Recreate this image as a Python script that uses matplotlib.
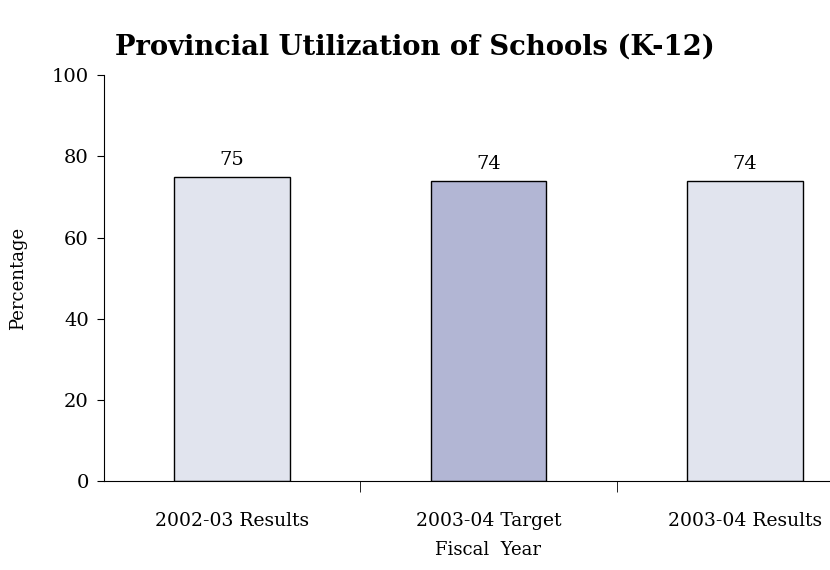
import matplotlib.pyplot as plt
import numpy as np

# Utilization data
categories = ['2002-03 Results', '2003-04 Target', '2003-04 Results']
values = [75, 74, 74]
colors = ['#E1E4EE', '#B2B6D4', '#E1E4EE']

plt.rcParams['font.family'] = ['DejaVu Serif']

fig = plt.figure(figsize=(8.3, 5.7), dpi=100)
ax = fig.add_axes([0.1253, 0.156, 0.9265, 0.712])

x = np.arange(len(categories))
bars = ax.bar(x, values, width=0.45, color=colors, edgecolor='black', linewidth=1.0)

for xi, v in zip(x, values):
    ax.text(xi, v + 2.0, str(v), ha='center', va='bottom', fontsize=14)

ax.set_xlim(-0.5, 2.5)
ax.set_ylim(0, 100)
ax.set_yticks([0, 20, 40, 60, 80, 100])
ax.tick_params(axis='y', labelsize=14, length=5, direction='out', pad=6)

# category labels centred on the bars, tick marks between them
ax.set_xticks(x)
ax.set_xticklabels(categories, fontsize=13.5)
ax.tick_params(axis='x', which='major', length=0, pad=22)
ax.set_xticks([0.5, 1.5], minor=True)
ax.tick_params(axis='x', which='minor', length=8, direction='out')

ax.spines['top'].set_visible(False)
ax.spines['right'].set_visible(False)
ax.spines['left'].set_linewidth(0.8)
ax.spines['bottom'].set_linewidth(0.8)

ax.set_ylabel('Percentage', fontsize=13, labelpad=18)
ax.set_xlabel('Fiscal  Year', fontsize=13, labelpad=8)

fig.text(0.5, 0.918, 'Provincial Utilization of Schools (K-12)', ha='center', va='center',
         fontsize=19.7, fontweight='bold')

fig.savefig('out.png', dpi=100)
